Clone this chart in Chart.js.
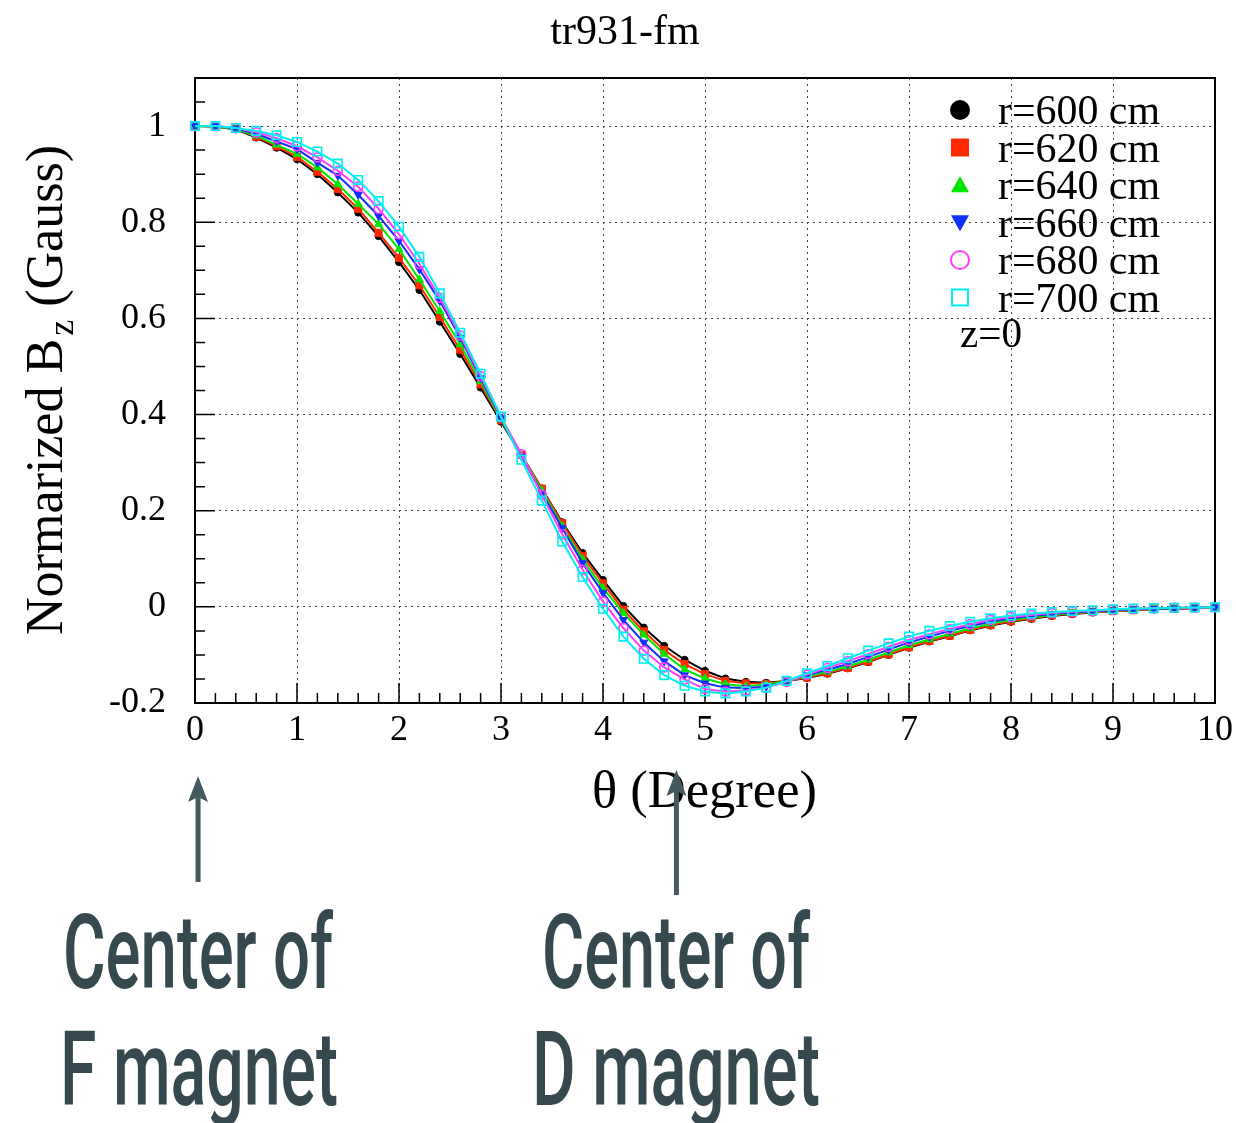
<!DOCTYPE html>
<html>
<head>
<meta charset="utf-8">
<title>tr931-fm</title>
<script src="https://cdn.jsdelivr.net/npm/chart.js@4.4.1/dist/chart.umd.min.js"></script>
<style>
  html, body { margin: 0; padding: 0; background: #ffffff; }
  canvas { display: block; }
</style>
</head>
<body>
<canvas id="field" width="1236" height="1123" style="width:1236px;height:1123px"></canvas>
<script>
// Azimuthal angle (degrees) of the sampled points
const theta = [0, 0.2, 0.4, 0.6, 0.8, 1, 1.2, 1.4, 1.6, 1.8,
               2, 2.2, 2.4, 2.6, 2.8, 3, 3.2, 3.4, 3.6, 3.8,
               4, 4.2, 4.4, 4.6, 4.8, 5, 5.2, 5.4, 5.6, 5.8,
               6, 6.2, 6.4, 6.6, 6.8, 7, 7.2, 7.4, 7.6, 7.8,
               8, 8.2, 8.4, 8.6, 8.8, 9, 9.2, 9.4, 9.6, 9.8, 10];

// Normalized Bz in the median plane (z=0), one list per radius
const bz600 = [1.000, 0.999, 0.993, 0.976, 0.955, 0.931, 0.900, 0.862, 0.820, 0.771,
               0.717, 0.659, 0.593, 0.526, 0.456, 0.385, 0.316, 0.246, 0.176, 0.112,
               0.056, 0.002, -0.043, -0.081, -0.110, -0.133, -0.149, -0.156, -0.158, -0.154,
               -0.148, -0.139, -0.128, -0.115, -0.100, -0.085, -0.072, -0.061, -0.049, -0.039,
               -0.031, -0.025, -0.019, -0.015, -0.012, -0.009, -0.007, -0.005, -0.004, -0.003, -0.002];
const bz620 = [1.000, 0.999, 0.994, 0.978, 0.958, 0.936, 0.905, 0.869, 0.828, 0.778,
               0.726, 0.669, 0.603, 0.535, 0.463, 0.388, 0.316, 0.246, 0.174, 0.106,
               0.049, -0.006, -0.051, -0.090, -0.119, -0.140, -0.154, -0.159, -0.160, -0.154,
               -0.147, -0.138, -0.127, -0.114, -0.099, -0.084, -0.071, -0.060, -0.048, -0.038,
               -0.030, -0.024, -0.018, -0.014, -0.011, -0.009, -0.007, -0.005, -0.004, -0.003, -0.002];
const bz640 = [1.000, 0.999, 0.994, 0.980, 0.961, 0.942, 0.914, 0.879, 0.838, 0.796,
               0.744, 0.681, 0.615, 0.546, 0.469, 0.390, 0.315, 0.242, 0.168, 0.099,
               0.039, -0.013, -0.058, -0.098, -0.130, -0.149, -0.161, -0.165, -0.162, -0.154,
               -0.145, -0.135, -0.124, -0.110, -0.095, -0.080, -0.068, -0.056, -0.045, -0.035,
               -0.027, -0.022, -0.017, -0.013, -0.010, -0.008, -0.006, -0.004, -0.003, -0.002, -0.002];
const bz660 = [1.000, 1.000, 0.995, 0.984, 0.968, 0.952, 0.924, 0.897, 0.857, 0.813,
               0.761, 0.702, 0.636, 0.560, 0.476, 0.393, 0.313, 0.237, 0.164, 0.091,
               0.029, -0.027, -0.074, -0.113, -0.142, -0.159, -0.168, -0.169, -0.166, -0.155,
               -0.142, -0.131, -0.119, -0.104, -0.089, -0.074, -0.062, -0.050, -0.040, -0.031,
               -0.024, -0.019, -0.015, -0.012, -0.009, -0.007, -0.005, -0.004, -0.003, -0.002, -0.001];
const bz680 = [1.000, 1.000, 0.996, 0.987, 0.975, 0.958, 0.935, 0.907, 0.874, 0.828,
               0.775, 0.713, 0.643, 0.565, 0.480, 0.395, 0.318, 0.233, 0.151, 0.077,
               0.011, -0.044, -0.091, -0.126, -0.151, -0.171, -0.176, -0.174, -0.168, -0.156,
               -0.141, -0.127, -0.113, -0.098, -0.083, -0.069, -0.057, -0.046, -0.036, -0.027,
               -0.021, -0.017, -0.013, -0.010, -0.008, -0.006, -0.004, -0.003, -0.002, -0.002, -0.001];
const bz700 = [1.000, 1.000, 0.996, 0.990, 0.981, 0.967, 0.947, 0.922, 0.888, 0.844,
               0.791, 0.728, 0.652, 0.570, 0.485, 0.396, 0.306, 0.221, 0.136, 0.062,
               -0.004, -0.062, -0.108, -0.142, -0.164, -0.176, -0.180, -0.176, -0.168, -0.154,
               -0.138, -0.123, -0.107, -0.091, -0.076, -0.062, -0.050, -0.040, -0.031, -0.024,
               -0.018, -0.014, -0.011, -0.0085, -0.007, -0.005, -0.0034, -0.0027, -0.002, -0.0013, -0.001];

const seriesLabels = ['r=600 cm', 'r=620 cm', 'r=640 cm', 'r=660 cm', 'r=680 cm', 'r=700 cm'];
const seriesValues = [bz600, bz620, bz640, bz660, bz680, bz700];

const xTickValues = [0, 1, 2, 3, 4, 5, 6, 7, 8, 9, 10];
const yTickValues = [-0.2, 0, 0.2, 0.4, 0.6, 0.8, 1];

const chartTitle = 'tr931-fm';
const xTitle = 'θ (Degree)';
const yTitleMain = 'Normarized B';
const yTitleSub = 'z';
const yTitleTail = ' (Gauss)';
const legendNote = 'z=0';

// Magnet centres marked below the axis, and their captions
const arrowThetas = [0.03, 4.72];
const magnetCaptions = [['Center of', 'F magnet'], ['Center of', 'D magnet']];

// Marker / colour styling per radius
const styles = [
  { color: '#000000', point: 'circle',   radius: 3.5, fill: true,  rot: 0,   key: 'circle' },
  { color: '#ff2a00', point: 'rect',     radius: 5,   fill: true,  rot: 0,   key: 'square' },
  { color: '#00e600', point: 'triangle', radius: 4.5, fill: true,  rot: 0,   key: 'tri' },
  { color: '#1030ff', point: 'triangle', radius: 4.5, fill: true,  rot: 180, key: 'triDown' },
  { color: '#ff3cff', point: 'circle',   radius: 4.5, fill: false, rot: 0,   key: 'openCircle' },
  { color: '#00f0f0', point: 'rect',     radius: 6,   fill: false, rot: 0,   key: 'openSquare' }
];

const SERIF = '"Liberation Serif", "Times New Roman", serif';

const datasets = seriesValues.map((vals, i) => ({
  label: seriesLabels[i],
  data: theta.map((t, k) => ({ x: t, y: vals[k] })),
  borderColor: styles[i].color,
  backgroundColor: styles[i].fill ? styles[i].color : 'rgba(0,0,0,0)',
  pointBorderColor: styles[i].color,
  pointBackgroundColor: styles[i].fill ? styles[i].color : 'rgba(0,0,0,0)',
  pointStyle: styles[i].point,
  pointRotation: styles[i].rot,
  pointRadius: styles[i].radius,
  pointBorderWidth: styles[i].fill ? 1 : 1.6,
  borderWidth: 2,
  tension: 0,
  clip: false,
  order: seriesValues.length - i
}));

function fmtTick(v) {
  const r = Math.round(v * 10) / 10;
  return String(r);
}

// Text squeezed/stretched horizontally to a given width
function fitText(ctx, text, x, y, width, font, color) {
  ctx.save();
  ctx.font = font;
  ctx.fillStyle = color;
  ctx.textAlign = 'left';
  ctx.textBaseline = 'alphabetic';
  const w = ctx.measureText(text).width;
  ctx.translate(x, y);
  ctx.scale(width / w, 1);
  ctx.fillText(text, 0, 0);
  ctx.restore();
}

function drawMarker(ctx, key, x, y, size, color) {
  ctx.save();
  ctx.fillStyle = color;
  ctx.strokeStyle = color;
  ctx.lineWidth = 2;
  const h = size / 2;
  ctx.beginPath();
  switch (key) {
    case 'circle': ctx.arc(x, y, h, 0, Math.PI * 2); ctx.fill(); break;
    case 'square': ctx.rect(x - h, y - h, size, size); ctx.fill(); break;
    case 'tri':
      ctx.moveTo(x, y - h); ctx.lineTo(x + h, y + h * 0.8); ctx.lineTo(x - h, y + h * 0.8);
      ctx.closePath(); ctx.fill(); break;
    case 'triDown':
      ctx.moveTo(x, y + h); ctx.lineTo(x + h, y - h * 0.8); ctx.lineTo(x - h, y - h * 0.8);
      ctx.closePath(); ctx.fill(); break;
    case 'openCircle': ctx.arc(x, y, h - 1, 0, Math.PI * 2); ctx.stroke(); break;
    case 'openSquare': ctx.rect(x - h + 1, y - h + 1, size - 2, size - 2); ctx.stroke(); break;
  }
  ctx.restore();
}

const whiteBackground = {
  id: 'whiteBackground',
  beforeDraw(chart) {
    const ctx = chart.ctx;
    ctx.save();
    ctx.fillStyle = '#ffffff';
    ctx.fillRect(0, 0, chart.width, chart.height);
    ctx.restore();
  }
};

// Frame with inward major/minor ticks on the left and bottom axes
const frameTicks = {
  id: 'frameTicks',
  beforeDatasetsDraw(chart) {
    const ctx = chart.ctx;
    const { left, right, top, bottom } = chart.chartArea;
    const xs = chart.scales.x, ys = chart.scales.y;
    ctx.save();
    ctx.strokeStyle = '#000';
    ctx.lineWidth = 1.5;
    ctx.beginPath();
    for (let i = 0; i <= 50; i++) {
      const px = xs.getPixelForValue(i * 0.2);
      const len = i % 5 === 0 ? 20 : 10;
      ctx.moveTo(px, bottom); ctx.lineTo(px, bottom - len);
    }
    for (let i = -4; i <= 22; i++) {
      const py = ys.getPixelForValue(i * 0.05);
      const len = i % 4 === 0 ? 20 : 10;
      ctx.moveTo(left, py); ctx.lineTo(left + len, py);
    }
    ctx.stroke();
    ctx.lineWidth = 2;
    ctx.strokeRect(left, top, right - left, bottom - top);
    ctx.restore();
  }
};

// Title, axis titles, legend and the magnet annotations
const decorations = {
  id: 'decorations',
  afterDraw(chart) {
    const ctx = chart.ctx;
    const xs = chart.scales.x;

    // title
    ctx.save();
    ctx.font = '42px ' + SERIF;
    ctx.fillStyle = '#000';
    ctx.textAlign = 'center';
    ctx.textBaseline = 'alphabetic';
    ctx.fillText(chartTitle, 625, 44);
    ctx.restore();

    // x axis title
    fitText(ctx, xTitle, 592, 807, 225, '52px ' + SERIF, '#000');

    // y axis title (rotated, with subscript)
    ctx.save();
    ctx.fillStyle = '#000';
    ctx.textAlign = 'left';
    ctx.textBaseline = 'alphabetic';
    const big = '52px ' + SERIF, small = '36px ' + SERIF;
    ctx.font = big; const w1 = ctx.measureText(yTitleMain).width;
    ctx.font = small; const w2 = ctx.measureText(yTitleSub).width;
    ctx.font = big; const w3 = ctx.measureText(yTitleTail).width;
    const total = w1 + 3 + w2 + w3;
    ctx.translate(62, 635);
    ctx.rotate(-Math.PI / 2);
    ctx.scale(490 / total, 1);
    ctx.font = big; ctx.fillText(yTitleMain, 0, 0);
    ctx.font = small; ctx.fillText(yTitleSub, w1 + 3, 11);
    ctx.font = big; ctx.fillText(yTitleTail, w1 + 3 + w2, 0);
    ctx.restore();

    // legend
    seriesLabels.forEach((lab, i) => {
      const cy = 110 + i * 37.5;
      drawMarker(ctx, styles[i].key, 960, cy, styles[i].key.indexOf('ircle') >= 0 ? 20 : 18, styles[i].color);
      fitText(ctx, lab, 998, cy + 14, 162, '42px ' + SERIF, '#000');
    });
    fitText(ctx, legendNote, 960, 347, 62, '42px ' + SERIF, '#000');

    // arrows pointing at the magnet centres
    ctx.save();
    ctx.strokeStyle = '#455a5f';
    ctx.fillStyle = '#455a5f';
    const arrowSpans = [[882, 776], [895, 770]];
    arrowThetas.forEach((t, i) => {
      const px = xs.getPixelForValue(t);
      const [y0, y1] = arrowSpans[i];
      ctx.lineWidth = 5;
      ctx.beginPath();
      ctx.moveTo(px, y0); ctx.lineTo(px, y1 + 20);
      ctx.stroke();
      ctx.beginPath();
      ctx.moveTo(px, y1);
      ctx.lineTo(px + 10, y1 + 26);
      ctx.lineTo(px, y1 + 21);
      ctx.lineTo(px - 10, y1 + 26);
      ctx.closePath();
      ctx.fill();
    });
    ctx.restore();

    // captions
    const capFont = '500 103px Roboto, "DejaVu Sans", sans-serif';
    const capColor = '#36494e';
    const capBoxes = [
      [[63, 988, 270], [60, 1105, 278]],
      [[542, 988, 268], [532, 1105, 288]]
    ];
    magnetCaptions.forEach((lines, i) => {
      lines.forEach((line, j) => {
        const [x, y, w] = capBoxes[i][j];
        fitText(ctx, line, x, y, w, capFont, capColor);
      });
    });
  }
};

new Chart(document.getElementById('field'), {
  type: 'line',
  data: { datasets },
  options: {
    responsive: false,
    animation: false,
    devicePixelRatio: 1,
    parsing: true,
    layout: { padding: { top: 78, right: 21, left: 0, bottom: 0 } },
    plugins: {
      legend: { display: false },
      tooltip: { enabled: false },
      title: { display: false }
    },
    scales: {
      x: {
        type: 'linear',
        min: 0, max: 10,
        afterBuildTicks: s => { s.ticks = xTickValues.map(v => ({ value: v })); },
        afterFit: s => { s.height = 420; s.paddingLeft = 0; s.paddingRight = 0; },
        grid: { color: '#444444', lineWidth: 1, drawTicks: false },
        border: { display: false, dash: [2, 4] },
        ticks: {
          padding: 6,
          color: '#000',
          font: { family: SERIF, size: 36 },
          maxRotation: 0,
          autoSkip: false,
          callback: v => fmtTick(v)
        }
      },
      y: {
        type: 'linear',
        min: -0.2, max: 1.1,
        afterBuildTicks: s => { s.ticks = yTickValues.map(v => ({ value: v })); },
        afterFit: s => { s.width = 195; s.paddingTop = 0; s.paddingBottom = 0; },
        grid: { color: '#444444', lineWidth: 1, drawTicks: false },
        border: { display: false, dash: [2, 4] },
        ticks: {
          padding: 29,
          color: '#000',
          font: { family: SERIF, size: 36 },
          autoSkip: false,
          callback: v => fmtTick(v)
        }
      }
    }
  },
  plugins: [whiteBackground, frameTicks, decorations]
});
</script>
</body>
</html>
